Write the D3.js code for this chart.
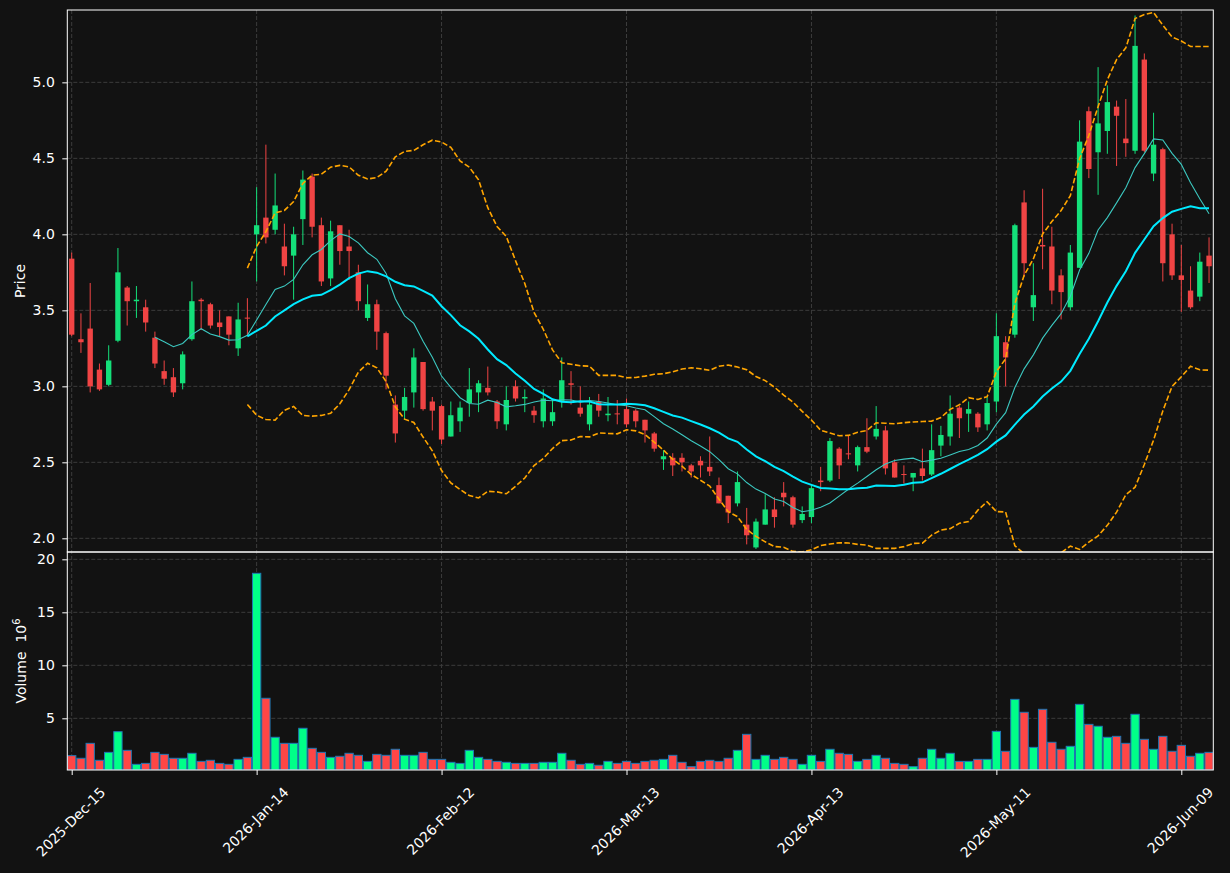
<!DOCTYPE html>
<html><head><meta charset="utf-8">
<script src="https://cdn.jsdelivr.net/npm/d3@7"></script>
<style>html,body{margin:0;padding:0;background:#121212;}svg{display:block;}</style>
</head><body>
<svg id="chart" width="1230" height="873"></svg>
<script>
// ---- data ----
const opens = [3.84,3.31,3.38,3.11,3.01,3.30,3.65,3.56,3.52,3.32,3.10,3.06,3.02,3.31,3.57,3.54,3.42,3.46,3.25,3.452,
4.00,4.11,4.03,3.92,3.86,4.10,4.38,4.06,3.71,4.06,3.92,3.75,3.45,3.54,3.35,2.88,2.84,2.96,3.16,2.90,
2.87,2.67,2.77,2.89,2.96,2.99,2.90,2.75,3.00,2.92,2.84,2.77,2.77,2.90,3.02,2.86,2.75,2.90,2.81,2.822,
2.85,2.84,2.78,2.69,2.52,2.53,2.53,2.48,2.51,2.47,2.35,2.28,2.23,2.09,1.94,2.09,2.19,2.30,2.27,2.12,
2.14,2.38,2.38,2.59,2.559,2.48,2.60,2.67,2.71,2.50,2.423,2.40,2.46,2.42,2.61,2.67,2.86,2.82,2.82,2.75,
2.90,3.29,3.34,4.21,3.52,3.93,3.92,3.73,3.52,3.78,4.81,4.54,4.68,4.84,4.63,4.55,5.15,4.40,4.56,4.00,
3.73,3.63,3.59,3.86];
const highs = [3.88,3.48,3.68,3.15,3.27,3.91,3.66,3.66,3.57,3.36,3.17,3.12,3.23,3.69,3.58,3.55,3.50,3.46,3.55,3.58,
4.31,4.59,4.40,4.07,4.05,4.42,4.40,4.11,4.09,4.06,4.03,3.80,3.67,3.57,3.36,2.94,2.99,3.25,3.16,2.93,
2.88,2.90,2.90,3.12,3.04,3.13,2.91,3.00,3.04,2.98,2.87,2.98,2.91,3.19,3.10,3.00,2.93,2.95,2.93,2.91,
2.92,2.85,2.78,2.70,2.58,2.56,2.56,2.49,2.54,2.67,2.40,2.28,2.44,2.20,2.13,2.29,2.27,2.37,2.28,2.21,
2.35,2.47,2.66,2.60,2.68,2.61,2.79,2.87,2.74,2.52,2.48,2.43,2.59,2.75,2.74,2.94,2.87,2.90,2.83,2.93,
3.48,3.33,4.07,4.29,3.81,4.30,4.05,3.77,3.93,4.75,4.84,5.10,4.98,4.88,4.89,5.44,5.19,4.80,4.57,4.07,
3.93,3.79,3.88,3.98];
const lows = [3.33,3.22,2.96,2.97,3.00,3.29,3.40,3.45,3.36,3.12,3.01,2.93,2.98,3.30,3.37,3.38,3.33,3.27,3.20,3.33,
3.69,3.94,4.00,3.73,3.57,3.93,3.98,3.66,3.66,3.80,3.70,3.50,3.43,3.24,2.98,2.63,2.78,2.86,2.84,2.71,
2.62,2.67,2.70,2.80,2.83,2.94,2.72,2.71,2.90,2.83,2.76,2.73,2.74,2.86,2.88,2.80,2.71,2.80,2.77,2.75,
2.73,2.73,2.63,2.57,2.45,2.41,2.44,2.40,2.40,2.41,2.23,2.10,2.21,1.96,1.93,2.09,2.07,2.21,2.07,2.10,
2.10,2.31,2.37,2.39,2.52,2.44,2.56,2.65,2.42,2.40,2.36,2.31,2.38,2.41,2.54,2.61,2.66,2.70,2.70,2.71,
2.83,3.00,3.32,3.72,3.43,3.77,3.54,3.44,3.50,3.78,4.37,4.26,4.53,4.45,4.51,4.53,4.54,4.35,3.69,3.70,
3.49,3.51,3.56,3.68];
const closes = [3.34,3.29,3.00,2.98,3.17,3.75,3.56,3.57,3.42,3.15,3.05,2.96,3.21,3.56,3.56,3.40,3.39,3.34,3.44,3.446,
4.06,3.98,4.19,3.79,4.00,4.36,4.05,3.69,4.02,3.89,3.89,3.56,3.54,3.36,3.07,2.69,2.93,3.19,2.85,2.84,
2.65,2.81,2.86,2.98,3.02,2.96,2.77,2.91,2.92,2.93,2.81,2.92,2.83,3.04,3.01,2.82,2.88,2.84,2.82,2.816,
2.75,2.77,2.71,2.59,2.54,2.48,2.50,2.44,2.48,2.44,2.23,2.17,2.37,2.02,2.11,2.19,2.14,2.27,2.09,2.16,
2.33,2.37,2.64,2.48,2.554,2.60,2.57,2.72,2.46,2.40,2.419,2.43,2.41,2.58,2.68,2.82,2.79,2.85,2.73,2.89,
3.33,3.19,4.06,3.81,3.60,3.92,3.63,3.62,3.88,4.61,4.43,4.73,4.87,4.78,4.60,5.24,4.55,4.59,3.81,3.73,
3.70,3.52,3.82,3.79];
// volume in millions
const volumes = [1.48,1.23,2.64,1.04,1.79,3.74,1.98,0.66,0.75,1.79,1.60,1.23,1.23,1.70,0.94,1.04,0.75,0.66,1.13,1.32,
18.68,6.89,3.21,2.64,2.64,4.06,2.17,1.79,1.32,1.42,1.70,1.51,0.94,1.60,1.51,2.08,1.51,1.51,1.79,1.13,
1.13,0.85,0.75,1.98,1.32,1.13,0.94,0.85,0.75,0.75,0.75,0.85,0.85,1.70,1.04,0.66,0.75,0.57,0.94,0.75,
0.94,0.75,0.94,1.04,1.13,1.51,0.85,0.44,0.94,1.04,0.94,1.23,1.98,3.49,1.13,1.51,1.13,1.32,1.13,0.66,
1.51,0.94,2.08,1.70,1.60,0.94,1.13,1.51,1.23,0.75,0.66,0.44,1.23,2.08,1.23,1.70,0.94,0.94,1.13,1.13,
3.77,1.89,6.79,5.57,2.26,5.85,2.74,2.08,2.36,6.32,4.43,4.25,3.21,3.30,2.64,5.38,3.02,2.08,3.30,1.89,
2.45,1.42,1.70,1.79];
const xTickIndex = [0,20,40,60,80,100,120];
const xTickLabels = ["2025-Dec-15","2026-Jan-14","2026-Feb-12","2026-Mar-13","2026-Apr-13","2026-May-11","2026-Jun-09"];
const priceTicks = [2.0,2.5,3.0,3.5,4.0,4.5,5.0];
const volumeTicks = [5,10,15,20];
const maShort = 10, maLong = 20, bbStd = 2;

// ---- derived indicators ----
function sma(a,n){return a.map((_,i)=> i<n-1?null: d3.mean(a.slice(i-n+1,i+1)));}
function rstd(a,n){return a.map((_,i)=> i<n-1?null: d3.deviation(a.slice(i-n+1,i+1)));}
const ma10 = sma(closes,maShort), ma20 = sma(closes,maLong), sd20 = rstd(closes,maLong);
const bbUp = ma20.map((m,i)=> m==null?null:m+bbStd*sd20[i]);
const bbLo = ma20.map((m,i)=> m==null?null:m-bbStd*sd20[i]);

// ---- layout ----
const L=67.3, R=1213.3, pTop=10, pBot=552, vTop=552, vBot=770;
const BG="#121212", FG="#ffffff", GRID="#3c3c3c";
const UP="#14e07a", DN="#f04444", VUP="#00ff88", VDN="#ff4646", VEDGE="#1f77b4";
const font="DejaVu Sans, Verdana, sans-serif";

const svg=d3.select("#chart");
svg.append("rect").attr("width",1230).attr("height",873).attr("fill",BG);

const n=closes.length;
const x=d3.scaleLinear().domain([-0.476,123.46]).range([L,R]);
const yP=d3.scaleLinear().domain([1.910,5.476]).range([pBot,pTop]);
const yV=d3.scaleLinear().domain([0.125,20.69]).range([vBot,vTop]);
const step=x(1)-x(0);

const defs=svg.append("defs");
defs.append("clipPath").attr("id","cp").append("rect").attr("x",L).attr("y",pTop).attr("width",R-L).attr("height",pBot-pTop);
defs.append("clipPath").attr("id","cv").append("rect").attr("x",L).attr("y",vTop).attr("width",R-L).attr("height",vBot-vTop);

// grids
const grid=svg.append("g").attr("stroke",GRID).attr("stroke-width",1).attr("stroke-dasharray","4,2");
xTickIndex.forEach(i=>{
  grid.append("line").attr("x1",x(i)).attr("x2",x(i)).attr("y1",pTop).attr("y2",vBot);
});
priceTicks.forEach(t=>grid.append("line").attr("x1",L).attr("x2",R).attr("y1",yP(t)).attr("y2",yP(t)));
volumeTicks.forEach(t=>grid.append("line").attr("x1",L).attr("x2",R).attr("y1",yV(t)).attr("y2",yV(t)));

// candles
const isUp=i=>closes[i]>=opens[i];
const pg=svg.append("g").attr("clip-path","url(#cp)");
const bw=step*0.58;
const idx=d3.range(n);
pg.selectAll("line.w").data(idx).join("line")
  .attr("x1",i=>x(i)).attr("x2",i=>x(i)).attr("y1",i=>yP(highs[i])).attr("y2",i=>yP(lows[i]))
  .attr("stroke",i=>isUp(i)?UP:DN).attr("stroke-width",1);
pg.selectAll("rect.b").data(idx).join("rect")
  .attr("x",i=>x(i)-bw/2).attr("width",bw)
  .attr("y",i=>yP(Math.max(opens[i],closes[i])))
  .attr("height",i=>Math.max(1,Math.abs(yP(opens[i])-yP(closes[i]))))
  .attr("fill",i=>isUp(i)?UP:DN);

// indicator lines
const lineGen=arr=>d3.line().defined(i=>arr[i]!=null).x(i=>x(i)).y(i=>yP(arr[i]))(idx);
pg.append("path").attr("d",lineGen(ma10)).attr("fill","none").attr("stroke","#3cc8c0").attr("stroke-width",1.1);
pg.append("path").attr("d",lineGen(ma20)).attr("fill","none").attr("stroke","#00eaff").attr("stroke-width",2);
[bbUp,bbLo].forEach(a=>pg.append("path").attr("d",lineGen(a)).attr("fill","none")
  .attr("stroke","#ffa500").attr("stroke-width",1.6).attr("stroke-dasharray","5.5,2.4"));

// volume
const vg=svg.append("g").attr("clip-path","url(#cv)");
const vw=step*0.9;
vg.selectAll("rect").data(idx).join("rect")
  .attr("x",i=>x(i)-vw/2).attr("width",vw)
  .attr("y",i=>yV(volumes[i])).attr("height",i=>vBot-yV(volumes[i]))
  .attr("fill",i=>isUp(i)?VUP:VDN).attr("stroke",VEDGE).attr("stroke-width",1);

// spines
svg.append("rect").attr("x",L).attr("y",pTop).attr("width",R-L).attr("height",pBot-pTop).attr("fill","none").attr("stroke",FG).attr("stroke-width",1);
svg.append("rect").attr("x",L).attr("y",vTop).attr("width",R-L).attr("height",vBot-vTop).attr("fill","none").attr("stroke",FG).attr("stroke-width",1);

// axes
function styleAxis(g){
  g.select(".domain").remove();
  g.selectAll(".tick line").attr("stroke",FG);
  g.selectAll(".tick text").attr("fill",FG).attr("font-family",font).attr("font-size",14);
}
svg.append("g").attr("transform",`translate(${L},0)`)
  .call(d3.axisLeft(yP).tickValues(priceTicks).tickFormat(d3.format(".1f")).tickSize(5).tickPadding(7.5)).call(styleAxis);
svg.append("g").attr("transform",`translate(${L},0)`)
  .call(d3.axisLeft(yV).tickValues(volumeTicks).tickFormat(d3.format("d")).tickSize(5).tickPadding(7.5)).call(styleAxis);
const xa=svg.append("g").attr("transform",`translate(0,${vBot})`)
  .call(d3.axisBottom(x).tickValues(xTickIndex).tickFormat((d,i)=>xTickLabels[i]).tickSize(5)).call(styleAxis);
xa.selectAll(".tick text").each(function(){
  const t=d3.select(this);
  const len=this.getComputedTextLength();
  const h=16.3;
  const cy=(784-vBot)+(len+h)*0.7071/2;
  t.attr("y",null).attr("dy",null).attr("text-anchor","middle").attr("dominant-baseline","central")
   .attr("transform",`translate(-1.5,${cy}) rotate(-45)`);
});

// axis labels
svg.append("text").attr("transform",`translate(24.5,${(pTop+pBot)/2}) rotate(-90)`)
  .attr("text-anchor","middle").attr("fill",FG).attr("font-family",font).attr("font-size",14).text("Price");
const vl=svg.append("text").attr("transform",`translate(26,${(vTop+vBot)/2}) rotate(-90)`)
  .attr("text-anchor","middle").attr("fill",FG).attr("font-family",font).attr("font-size",14);
vl.append("tspan").text("Volume\u00a0\u00a010");
vl.append("tspan").attr("font-size",10).attr("dy",-6).text("6");
</script>
</body></html>
